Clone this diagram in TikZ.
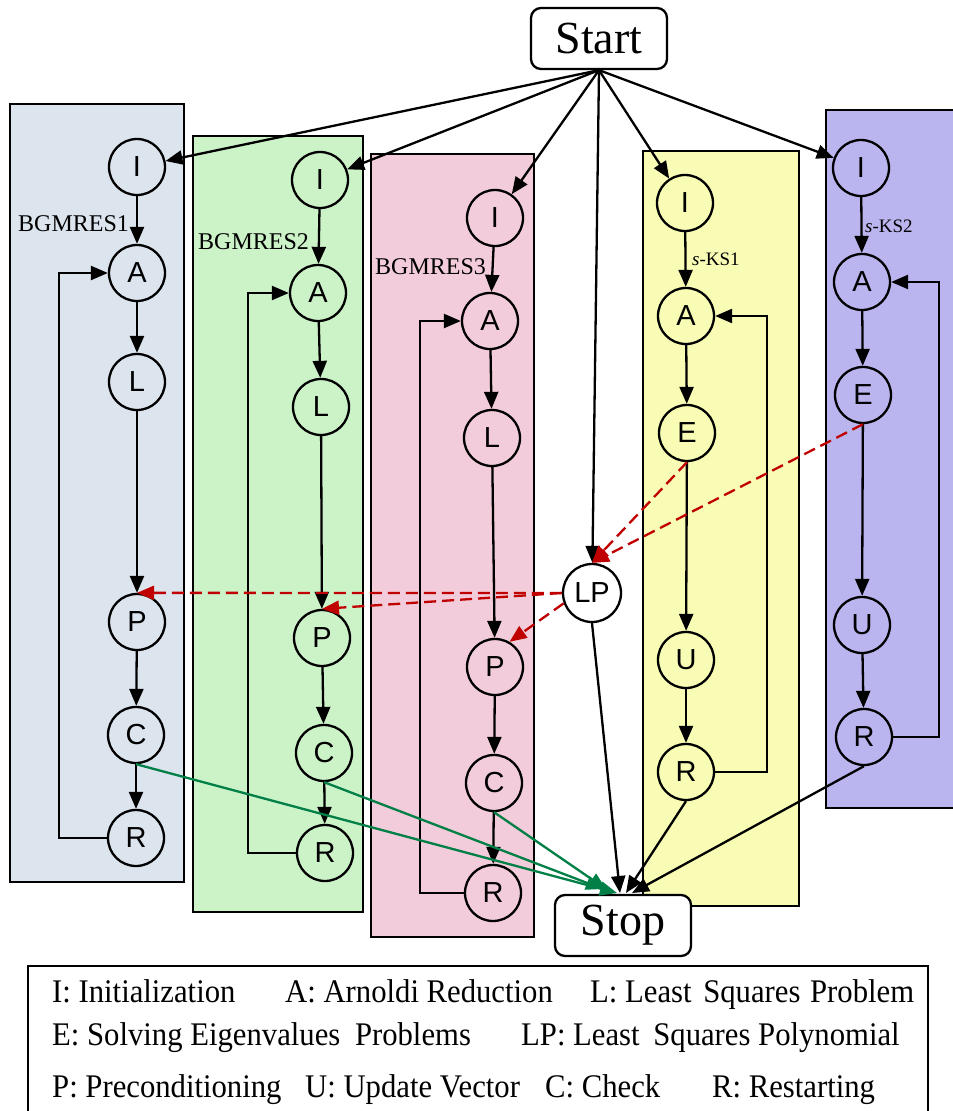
\documentclass[tikz,border=0pt]{standalone}
\usepackage{fontspec}
\setmainfont{Liberation Serif}
\newfontfamily\sansnode{Liberation Sans}
\newfontfamily\legfont{Liberation Serif}[FakeStretch=0.93]
\usetikzlibrary{arrows.meta}
\definecolor{pA}{RGB}{220,228,238}
\definecolor{pB}{RGB}{204,242,200}
\definecolor{pC}{RGB}{242,204,218}
\definecolor{pD}{RGB}{248,252,180}
\definecolor{pE}{RGB}{186,181,238}
\definecolor{redd}{RGB}{192,0,0}
\definecolor{greenl}{RGB}{0,128,70}
\tikzset{
  panel/.style={draw=black,line width=2.3pt},
  nd/.style={circle,draw,line width=2.3pt,minimum size=56pt,inner sep=0pt,font=\sansnode\fontsize{29}{30}\selectfont},
  arr/.style={line width=2.3pt,-{Triangle[length=17pt,width=14pt]}},
  redarr/.style={arr,draw=redd,dash pattern=on 12pt off 6pt},
  grnarr/.style={arr,draw=greenl},
  termbox/.style={draw,rounded corners=10pt,line width=2.3pt,minimum width=136pt,minimum height=61pt,inner sep=0pt,fill=white,font=\fontsize{46}{46}\selectfont},
  plabel/.style={anchor=base west,inner sep=0pt,font=\fontsize{24}{24}\selectfont},
  klabel/.style={anchor=base west,inner sep=0pt,font=\fontsize{19}{19}\selectfont},
  legtext/.style={anchor=base west,inner sep=0pt,font=\legfont\fontsize{33}{33}\selectfont},
}
\begin{document}
\begin{tikzpicture}[x=1pt,y=-1pt]
\useasboundingbox (0,0) rectangle (953,1111);
\clip (0,0) rectangle (953,1111);
% panels
\draw[panel,fill=pA] (10,104) rectangle (184,882);
\draw[panel,fill=pB] (193,136) rectangle (363,912);
\draw[panel,fill=pC] (371,154) rectangle (534,937);
\draw[panel,fill=pD] (643,151) rectangle (799,906);
\draw[panel,fill=pE] (826,110) rectangle (965,808);
% terminals
\node[termbox] (Start) at (599,38.5) {Start};
\node[termbox] (Stop) at (623,925.5) {Stop};
% panel 1
\node[nd,fill=pA] (I1) at (137,167) {I};
\node[nd,fill=pA] (A1) at (137,273) {A};
\node[nd,fill=pA] (L1) at (137,382) {L};
\node[nd,fill=pA] (P1) at (137,622) {P};
\node[nd,fill=pA] (C1) at (136,735) {C};
\node[nd,fill=pA] (R1) at (136,838) {R};
% panel 2
\node[nd,fill=pB] (I2) at (320,180) {I};
\node[nd,fill=pB] (A2) at (318,293) {A};
\node[nd,fill=pB] (L2) at (321,407) {L};
\node[nd,fill=pB] (P2) at (322,638) {P};
\node[nd,fill=pB] (C2) at (324,753) {C};
\node[nd,fill=pB] (R2) at (325,853) {R};
% panel 3
\node[nd,fill=pC] (I3) at (495,218) {I};
\node[nd,fill=pC] (A3) at (490,321) {A};
\node[nd,fill=pC] (L3) at (492,438) {L};
\node[nd,fill=pC] (P3) at (495,667) {P};
\node[nd,fill=pC] (C3) at (494,783) {C};
\node[nd,fill=pC] (R3) at (493,893) {R};
% panel 4
\node[nd,fill=pD] (I4) at (685,203) {I};
\node[nd,fill=pD] (A4) at (686,316) {A};
\node[nd,fill=pD] (E4) at (687,433) {E};
\node[nd,fill=pD] (U4) at (686,660) {U};
\node[nd,fill=pD] (R4) at (686,772) {R};
% panel 5
\node[nd,fill=pE] (I5) at (861,168) {I};
\node[nd,fill=pE] (A5) at (862,282) {A};
\node[nd,fill=pE] (E5) at (863,395) {E};
\node[nd,fill=pE] (U5) at (862,625) {U};
\node[nd,fill=pE] (R5) at (864,737) {R};
% LP
\node[nd,fill=white,minimum size=58pt] (LP) at (592,593) {LP};
% labels
\node[plabel] (lb1) at (18,231) {BGMRES1};
\node[plabel] (lb2) at (198,249) {BGMRES2};
\node[plabel] (lb3) at (375,274) {BGMRES3};
\node[klabel] (lk1) at (692,265) {\textit{s}-KS1};
\node[klabel] (lk2) at (865,232) {\textit{s}-KS2};
% start arrows
\foreach \n in {I1,I2,I3,LP,I4,I5} \draw[arr] (Start.south) -- (\n);
% chains
\draw[arr] (I1) -- (A1); \draw[arr] (A1) -- (L1); \draw[arr] (L1) -- (P1); \draw[arr] (P1) -- (C1); \draw[arr] (C1) -- (R1);
\draw[arr] (I2) -- (A2); \draw[arr] (A2) -- (L2); \draw[arr] (L2) -- (P2); \draw[arr] (P2) -- (C2); \draw[arr] (C2) -- (R2);
\draw[arr] (I3) -- (A3); \draw[arr] (A3) -- (L3); \draw[arr] (L3) -- (P3); \draw[arr] (P3) -- (C3); \draw[arr] (C3) -- (R3);
\draw[arr] (I4) -- (A4); \draw[arr] (A4) -- (E4); \draw[arr] (E4) -- (U4); \draw[arr] (U4) -- (R4);
\draw[arr] (I5) -- (A5); \draw[arr] (A5) -- (E5); \draw[arr] (E5) -- (U5); \draw[arr] (U5) -- (R5);
% loops
\draw[arr] (R1.west) -- ++(-48,0) |- (A1.west);
\draw[arr] (R2.west) -- ++(-48,0) |- (A2.west);
\draw[arr] (R3.west) -- ++(-44,0) |- (A3.west);
\draw[arr] (R4.east) -- ++(52,0) |- (A4.east);
\draw[arr] (R5.east) -- ++(46,0) |- (A5.east);
% red dashed
\draw[redarr] (E4.south) -- (LP.north);
\draw[redarr] (E5.south) -- (LP.north);
\draw[redarr] (LP.west) -- (P1.north);
\draw[redarr] (LP.west) -- (P2.north);
\draw[redarr] (LP.200) -- (P3.60);
% to stop
\coordinate (s1) at (603,889);
\coordinate (s2) at (606,889);
\coordinate (s3) at (617,893);
\coordinate (s4) at (620,893);
\coordinate (s5) at (626,893);
\coordinate (s6) at (632,893);
\draw[grnarr] (C2.south) -- (s1);
\draw[grnarr] (C3.south) -- (s2);
\draw[grnarr] (C1.south) -- (s3);
\draw[arr] (LP.south) -- (s4);
\draw[arr] (R4.south) -- (s5);
\draw[arr] (R5.south) -- (s6);
% legend
\draw[line width=2.3pt] (28,966) rectangle (928,1130);
\node[legtext] (t1) at (52,1002) {I: Initialization};
\node[legtext] (t2) at (285,1002) {A: Arnoldi Reduction};
\node[legtext] (t3) at (590,1002) {L: Least\hspace{4pt} Squares\hspace{2pt} Problem};
\node[legtext] (t4) at (52,1045) {E: Solving Eigenvalues\hspace{7pt} Problems};
\node[legtext] (t5) at (521,1045) {LP: Least\hspace{6pt} Squares Polynomial};
\node[legtext] (t6) at (52,1097) {P: Preconditioning};
\node[legtext] (t7) at (305,1097) {U: Update Vector};
\node[legtext] (t8) at (545,1097) {C: Check};
\node[legtext] (t9) at (712,1097) {R: Restarting};
\end{tikzpicture}
\end{document}
